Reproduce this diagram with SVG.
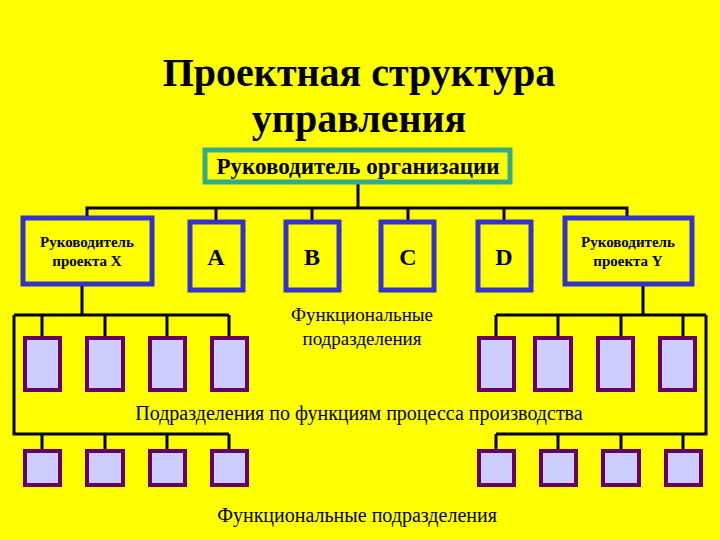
<svg xmlns="http://www.w3.org/2000/svg" width="720" height="540" viewBox="0 0 720 540">
<style>
text{font-family:"Liberation Serif",serif;fill:#000}
.b{font-weight:bold}
.big{fill:#ffff00;stroke:#3333cc;stroke-width:5}
.sm{fill:#ccccff;stroke:#660066;stroke-width:4}
.c{fill:none;stroke:#000;stroke-width:3}
</style>
<rect width="720" height="540" fill="#ffff00"/>
<text class="b" x="359" y="86" font-size="40" text-anchor="middle" fill="#000033">Проектная структура</text>
<text class="b" x="359" y="132" font-size="40" text-anchor="middle" fill="#000033">управления</text>
<g id="connectors" class="c">
<path d="M358 182V208M87 218V208H627V218M216 222V208M312 222V208M408 222V208M504 222V208"/>
<path d="M82 284V315M14 315H229M42 315V338M105 315V338M167 315V338M229 315V338M14 315V434H229M42 434V451M105 434V451M167 434V451M229 434V451"/>
<path d="M643 284V315M496 315H706M496 315V338M558 315V338M621 315V338M683 315V338M706 315V434H496M496 434V451M558 434V451M621 434V451M683 434V451"/>
</g>
<g id="org"><rect x="205" y="150" width="305" height="32" fill="#ffff00" stroke="#33aa88" stroke-width="5"/><text class="b" x="358" y="174" font-size="23" text-anchor="middle">Руководитель организации</text></g>
<g id="px"><rect class="big" x="23" y="218" width="129" height="66"/><text class="b" x="87" y="247" font-size="15" text-anchor="middle">Руководитель</text><text class="b" x="87" y="266" font-size="15" text-anchor="middle">проекта X</text></g>
<g id="a"><rect class="big" x="190" y="222" width="53" height="68"/><text class="b" x="216" y="265" font-size="24" text-anchor="middle">A</text></g>
<g id="b"><rect class="big" x="286" y="222" width="53" height="68"/><text class="b" x="312" y="265" font-size="24" text-anchor="middle">B</text></g>
<g id="c"><rect class="big" x="381" y="222" width="53" height="68"/><text class="b" x="408" y="265" font-size="24" text-anchor="middle">C</text></g>
<g id="d"><rect class="big" x="478" y="222" width="53" height="68"/><text class="b" x="504" y="265" font-size="24" text-anchor="middle">D</text></g>
<g id="py"><rect class="big" x="565" y="218" width="127" height="66"/><text class="b" x="628" y="247" font-size="15" text-anchor="middle">Руководитель</text><text class="b" x="628" y="266" font-size="15" text-anchor="middle">проекта Y</text></g>
<g id="units">
<rect class="sm" x="25" y="338" width="35" height="52"/><rect class="sm" x="87" y="338" width="36" height="52"/><rect class="sm" x="150" y="338" width="35" height="52"/><rect class="sm" x="212" y="338" width="35" height="52"/>
<rect class="sm" x="479" y="338" width="35" height="52"/><rect class="sm" x="535" y="338" width="36" height="52"/><rect class="sm" x="598" y="338" width="35" height="52"/><rect class="sm" x="660" y="338" width="35" height="52"/>
<rect class="sm" x="25" y="451" width="35" height="34"/><rect class="sm" x="87" y="451" width="36" height="34"/><rect class="sm" x="150" y="451" width="35" height="34"/><rect class="sm" x="212" y="451" width="35" height="34"/>
<rect class="sm" x="479" y="451" width="35" height="34"/><rect class="sm" x="541" y="451" width="35" height="34"/><rect class="sm" x="603" y="451" width="36" height="34"/><rect class="sm" x="666" y="451" width="35" height="34"/>
</g>
<text x="362" y="321" font-size="19" text-anchor="middle">Функциональные</text>
<text x="362" y="345" font-size="19" text-anchor="middle">подразделения</text>
<text x="359" y="420" font-size="20" text-anchor="middle">Подразделения по функциям процесса производства</text>
<text x="357" y="522" font-size="20" text-anchor="middle">Функциональные подразделения</text>
</svg>
